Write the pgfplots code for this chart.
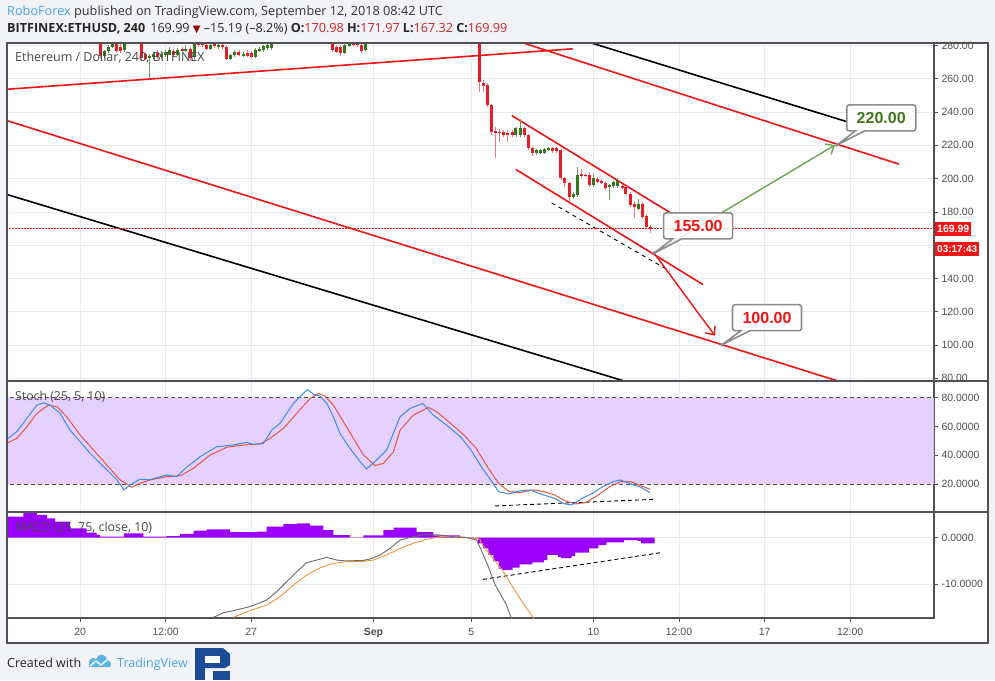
\documentclass[border=0pt]{standalone}
\usepackage{fontspec}
\setmainfont{Liberation Sans}
\newfontfamily\osans{Open Sans}
\newfontfamily\dejavu{DejaVu Sans}
\usepackage{xcolor}
\usepackage{pgfplots}
\usepackage{pgfplotstable}
\pgfplotsset{compat=1.18}
\usetikzlibrary{arrows.meta,shapes.callouts}

\definecolor{bgcol}{RGB}{242,243,247}
\definecolor{framecol}{RGB}{80,80,85}
\definecolor{gridcol}{RGB}{231,234,239}
\definecolor{tickcol}{RGB}{80,80,80}
\definecolor{candred}{RGB}{232,28,36}
\definecolor{wickred}{RGB}{236,120,130}
\definecolor{candgreen}{RGB}{56,118,29}
\definecolor{wickgreen}{RGB}{110,150,90}
\definecolor{linered}{RGB}{240,20,20}
\definecolor{stochblue}{RGB}{60,140,230}
\definecolor{stochred}{RGB}{230,85,60}
\definecolor{bandcol}{RGB}{228,203,255}
\definecolor{histcol}{RGB}{155,0,255}
\definecolor{macdgrey}{RGB}{105,105,105}
\definecolor{macdorange}{RGB}{240,150,60}
\definecolor{robo}{RGB}{75,163,227}
\definecolor{hdrred}{RGB}{200,35,35}
\definecolor{darkred}{RGB}{150,0,0}
\definecolor{callgrey}{RGB}{140,140,140}
\definecolor{tgreen}{RGB}{61,122,30}
\definecolor{arrowgreen}{RGB}{106,168,79}
\definecolor{logoblue}{RGB}{28,76,150}
\definecolor{tvlight}{RGB}{92,180,230}

\newcommand\tickfont{\fontsize{10.5}{12}\selectfont}

% candles: day (Aug 1 = 1, Sep 1 = 32), open, high, low, close
\pgfplotstableread{
d o h l c
20.83 286 287 272.5 273.5
21.50 281.5 283 275.5 276.5
21.67 279 281 275.5 276.5
22.17 287 289 283 285
22.33 285 286 281 283
22.50 283 284 271.5 272.5
22.67 275 276 271 272
23.17 275.5 277 272 273
23.83 276.5 278 273 274
24.17 277.5 279 276 277
24.50 278 279 271.5 272.3
24.83 282.5 284 279 280.5
25.00 281.5 283 279 280
25.17 280.5 282 277 278
25.50 281.5 283 278.5 279.5
25.83 280.5 282 278 279
26.00 279 280 271 272
26.50 276 277 273.5 274.5
26.83 275.5 277 273 273.5
27.00 275.5 276.5 272.5 273
30.33 284 286 276 277
30.50 279 280.5 275.5 276.3
30.67 279 280 273.5 275.5
31.17 281.5 283 279.5 280.5
31.33 281.5 283 279 280
31.50 280 281.5 275.5 276.5
36.33 286 288 252 258.2
36.50 257.4 259 252 255.8
36.67 256.4 257.5 243 244.3
36.83 244.3 245 226 228.2
37.00 228.5 231 212.2 227.5
37.17 228 230 222 227.8
37.33 228.2 229 225 226.2
37.50 227.3 229 222 226.8
37.67 227.8 229 225 226.2
38.17 230.2 231 225 226.2
38.33 226.2 227 217 218.2
38.50 218.2 219 213.6 215.2
39.33 218.2 219 215.5 216.8
39.50 218.2 219 215.5 216.6
39.67 217.2 218 199 200.1
39.83 200.1 201 195 197.1
40.00 197.1 198 186 189.0
40.50 202.5 206 200.5 201.5
40.67 202.1 203 201 201.9
40.83 202.1 204 195 196.1
41.17 199.5 201 197.5 198.1
41.33 198.7 199.5 196.5 197.1
41.50 197.1 198 193 194.1
42.17 195.5 196.5 193.5 194.1
42.33 194.7 195.5 190 191.0
42.50 191.0 192 183 184.0
42.67 185.0 186 176.6 183.0
43.00 185.0 186 176 177.0
43.17 177.4 178.5 170 171.0
43.33 170.98 171.97 167.32 169.99
}\redtab

\pgfplotstableread{
d o h l c
21.00 273.5 277 272.5 276.5
21.17 276.5 280 275.5 279
21.33 279 284 278.5 282
21.83 277 283 276 282
22.83 272.5 275 260.5 273.5
23.00 273 276 272 275
23.33 273 276.5 272 275
23.50 274 277 273 275.5
23.67 274.5 279 274 277.5
24.00 274.5 278.5 273.5 277.5
24.33 277 280 276 278
24.67 273 284 272 282.5
25.33 278 283 277.5 280
25.67 279 282 278 280.5
26.17 272 275 271 274
26.33 274 277 273 276
26.67 274 276 273 275
27.17 273.3 278.5 272.5 277.5
27.33 277 279 276 278
27.50 277 280 276 279.5
27.67 278.5 281 277.5 280.5
27.83 278.5 286 277.5 285
30.83 275.5 281 275 280
31.00 280 282.5 279 281
31.67 277.5 286 276.5 285
37.83 226.2 231 225 230.2
38.00 226.5 236 225 230.2
38.67 215.2 218 214 217.2
38.83 215.6 218 214.5 217.2
39.00 215.6 218.5 214.5 217.6
39.17 217.6 219 216.5 218.2
40.17 189.0 192 188 191.0
40.33 190.0 207.1 189 202.1
41.00 196.1 203 195 200.1
41.67 194.7 196.5 187 196.1
41.83 195.5 198.8 194.5 198.1
42.00 195.5 200.5 194.5 199.1
42.83 182.0 188 181 185.0
}\greentab

\pgfplotsset{
  panel/.style={
    scale only axis, width=927pt, anchor=south west,
    xmin=17.01, xmax=54.93,
    xtick={20,23.5,27,32,36,41,44.5,48,51.5},
    grid=major, grid style={draw=gridcol, line width=0.8pt},
    axis line style={draw=framecol, line width=1.1pt},
    ytick pos=right, yticklabel pos=right,
    tick align=outside, major tick length=4pt,
    tick style={draw=framecol, line width=0.8pt},
    yticklabel style={font=\tickfont, text=tickcol},
    xticklabel style={font=\tickfont, text=tickcol},
    clip mode=global,
  },
}

\begin{document}
\begin{tikzpicture}
\fill[bgcol] (0pt,0pt) rectangle (995pt,680pt);
\fill[white] (7pt,37pt) rectangle (988pt,637pt);

% ---------------- price ----------------
\begin{axis}[panel, at={(7pt,299pt)}, height=338pt,
  ymin=78.4, ymax=281.5,
  ytick={80,100,120,140,160,180,200,220,240,260,280},
  yticklabels={80.00,100.00,120.00,140.00,,180.00,200.00,220.00,240.00,260.00,280.00},
  xticklabels={}, xtick style={draw=none}]
  % trend lines
  \addplot[linered, line width=1.6pt] coordinates {(17.01,253.7) (40.16,278.0)};
  \addplot[linered, line width=1.6pt] coordinates {(38.0,282.1) (53.50,208.7)};
  \addplot[black, line width=1.6pt] coordinates {(40.65,282.7) (51.36,234.25)};
  \addplot[linered, line width=1.6pt] coordinates {(17.0,234.9) (51.0,78.4)};
  \addplot[black, line width=1.6pt] coordinates {(17.0,190.5) (42.37,77.9)};
  \addplot[linered, line width=1.6pt] coordinates {(37.66,237.87) (44.20,179.0)};
  \addplot[linered, line width=1.6pt] coordinates {(37.82,205.54) (45.48,136.35)};
  \addplot[black, line width=0.9pt, dash pattern=on 4pt off 4pt] coordinates {(39.29,185.4) (44.13,144.4)};
  % candles: wicks, then bodies
  \addplot[draw=none, mark=none, error bars/.cd, y dir=both, y explicit, error mark=none,
    error bar style={line width=0.9pt, color=wickred, solid}]
    table[x=d, y expr={(\thisrow{h}+\thisrow{l})/2}, y error expr={(\thisrow{h}-\thisrow{l})/2}] {\redtab};
  \addplot[draw=none, mark=none, error bars/.cd, y dir=both, y explicit, error mark=none,
    error bar style={line width=0.9pt, color=wickgreen, solid}]
    table[x=d, y expr={(\thisrow{h}+\thisrow{l})/2}, y error expr={(\thisrow{h}-\thisrow{l})/2}] {\greentab};
  \addplot[draw=none, mark=none, error bars/.cd, y dir=both, y explicit, error mark=none,
    error bar style={line width=3pt, color=candred, solid}]
    table[x=d, y expr={(\thisrow{o}+\thisrow{c})/2}, y error expr={max(abs(\thisrow{o}-\thisrow{c})/2,0.4)}] {\redtab};
  \addplot[draw=none, mark=none, error bars/.cd, y dir=both, y explicit, error mark=none,
    error bar style={line width=3pt, color=candgreen, solid}]
    table[x=d, y expr={(\thisrow{o}+\thisrow{c})/2}, y error expr={max(abs(\thisrow{o}-\thisrow{c})/2,0.4)}] {\greentab};
  % last price
  \addplot[linered, line width=0.8pt, dash pattern=on 1.5pt off 1.5pt] coordinates {(16,169.99) (56,169.99)};
  % targets
  \addplot[linered, line width=1.4pt, -{Straight Barb[length=7pt,width=12pt]}] coordinates {(43.48,155.2) (45.97,105.6)};
  \addplot[arrowgreen, line width=1.4pt, -{Straight Barb[length=7pt,width=12pt]}] coordinates {(43.48,155.2) (50.88,220.2)};
  \node[rectangle callout, callout absolute pointer={(axis cs:43.48,155.2)}, callout pointer width=9pt,
    draw=callgrey, line width=1.6pt, rounded corners=2.5pt, fill=white, fill opacity=0.85, text opacity=1,
    text=linered, font=\fontsize{16}{18}\selectfont\bfseries, minimum width=69pt, minimum height=26pt, inner sep=0pt]
    at (axis cs:45.28,171.6) {155.00};
  \node[rectangle callout, callout absolute pointer={(axis cs:50.96,220.2)}, callout pointer width=9pt,
    draw=callgrey, line width=1.6pt, rounded corners=2.5pt, fill=white, fill opacity=0.85, text opacity=1,
    text=tgreen, font=\fontsize{16}{18}\selectfont\bfseries, minimum width=69pt, minimum height=26pt, inner sep=0pt]
    at (axis cs:52.77,236.5) {220.00};
  \node[rectangle callout, callout absolute pointer={(axis cs:46.26,100.2)}, callout pointer width=9pt,
    draw=callgrey, line width=1.6pt, rounded corners=2.5pt, fill=white, fill opacity=0.85, text opacity=1,
    text=linered, font=\fontsize{16}{18}\selectfont\bfseries, minimum width=69pt, minimum height=26pt, inner sep=0pt]
    at (axis cs:48.10,116.45) {100.00};
  \addplot[only marks, mark=*, mark size=1.6pt, callgrey] coordinates {(43.48,155.2) (50.96,220.2) (46.26,100.2)};
  \coordinate (lastp) at (axis cs:54.93,169.99);
  \node[anchor=north west, inner sep=0pt, text=tickcol!90!black, font=\osans\fontsize{12.5}{14}\selectfont] at ([xshift=8pt,yshift=-9pt]rel axis cs:0,1) {Ethereum / Dollar, 240, BITFINEX};
\end{axis}

% ---------------- stochastic ----------------
\begin{axis}[panel, at={(7pt,168pt)}, height=131pt,
  ymin=0.8, ymax=91.5,
  ytick={20,40,60,80}, yticklabels={20.0000,40.0000,60.0000,80.0000},
  xticklabels={}, xtick style={draw=none}]
  \addplot[draw=none, fill=bandcol, fill opacity=0.9] coordinates {(16,20) (56,20) (56,80) (16,80)} -- cycle;
  \addplot[framecol, line width=0.8pt, dash pattern=on 4pt off 3pt] coordinates {(16,80) (56,80)};
  \addplot[framecol, line width=0.8pt, dash pattern=on 4pt off 3pt] coordinates {(16,20) (56,20)};
  \addplot[black, line width=0.9pt, dash pattern=on 4pt off 3pt] coordinates {(36.98,5.0) (43.52,9.6)};
  \addplot[stochred, line width=1.0pt] coordinates {
    (17.00,48.3) (17.41,51.8) (17.82,59.8) (18.23,69.1) (18.70,74.8) (19.05,73.7) (19.45,66.8)
    (20.00,54.1) (20.55,43.7) (21.09,33.4) (21.64,23.0) (22.11,17.9) (22.45,20.7) (22.86,23.0)
    (23.54,25.3) (24.09,25.8) (24.64,31.1) (25.32,40.3) (26.00,45.6) (26.68,47.2) (27.36,47.9)
    (27.77,51.8) (28.32,58.7) (28.86,69.1) (29.41,79.4) (29.75,82.9) (30.02,81.0) (30.36,74.8)
    (30.77,63.3) (31.18,51.8) (31.59,40.3) (32.07,32.9) (32.41,34.5) (32.82,42.6) (33.09,57.5)
    (33.63,67.9) (34.25,73.2) (34.59,70.2) (35.13,62.6) (35.70,54.1) (36.20,44.9) (36.70,31.1)
    (37.12,20.7) (37.55,14.9) (37.98,14.3) (38.55,16.1) (38.97,14.9) (39.40,12.7) (39.82,8.7)
    (40.25,6.4) (40.68,7.3) (41.10,11.5) (41.67,18.4) (42.10,21.8) (42.53,21.8) (42.95,18.9) (43.31,16.6)};
  \addplot[stochblue, line width=1.0pt] coordinates {
    (17.00,51.1) (17.41,56.4) (17.82,65.6) (18.23,74.8) (18.50,76.4) (18.77,74.8) (19.18,69.1)
    (19.59,57.5) (20.00,49.5) (20.41,41.4) (20.82,34.5) (21.23,27.7) (21.50,23.1) (21.80,16.1)
    (22.04,19.5) (22.45,23.5) (22.86,23.1) (23.54,26.5) (23.95,25.3) (24.36,31.8) (24.91,39.1)
    (25.59,46.0) (26.27,47.2) (26.82,49.0) (27.09,47.6) (27.50,48.3) (27.84,57.5) (28.18,62.2)
    (28.45,69.1) (28.73,76.0) (29.00,80.6) (29.30,85.6) (29.54,82.4) (29.82,81.0) (30.09,76.0)
    (30.36,66.8) (30.63,55.2) (31.04,44.9) (31.45,35.7) (31.72,30.6) (32.13,36.8) (32.54,43.7)
    (33.09,66.8) (33.50,72.5) (34.01,76.0) (34.45,67.9) (34.99,61.0) (35.56,52.9) (35.99,43.7)
    (36.41,32.2) (36.84,21.9) (37.12,14.9) (37.55,13.3) (37.98,15.4) (38.40,16.1) (38.83,13.3)
    (39.40,10.3) (39.82,6.4) (40.11,5.7) (40.54,10.3) (40.96,13.8) (41.39,18.4) (41.81,21.8)
    (42.10,23.0) (42.53,20.2) (42.95,17.9) (43.31,14.3)};
  \node[anchor=north west, inner sep=0pt, text=tickcol!90!black, font=\osans\fontsize{12.3}{14}\selectfont] at ([xshift=8pt,yshift=-10pt]rel axis cs:0,1) {Stoch (25, 5, 10)};
\end{axis}

% ---------------- MACD ----------------
\begin{axis}[panel, at={(7pt,62pt)}, height=106pt,
  ymin=-17.2, ymax=5.5,
  ytick={-10,0}, yticklabels={-10.0000,0.0000},
  xtick pos=bottom,
  xticklabels={20,12:00,27,\textbf{Sep},5,10,12:00,17,12:00},
  xticklabel style={yshift=-3pt}]
  \addplot[const plot mark left, draw=none, fill=histcol] coordinates {
    (17.00,4.5) (17.68,5.36) (18.23,4.86) (18.64,4.14) (18.98,3.43) (19.59,2.0) (20.27,1.1)
    (20.68,0.6) (20.82,0.21) (21.80,0.93) (22.59,0.21) (23.54,0.36) (24.09,0.79) (24.64,1.5)
    (25.18,1.79) (26.13,1.21) (27.23,1.29) (27.63,2.36) (28.32,2.93) (28.86,3.07) (29.41,2.57)
    (29.95,1.64) (30.36,0.57) (31.04,0.07) (31.59,0.5) (32.41,1.64) (32.82,2.14) (33.77,1.21)
    (34.45,0.5) (35.54,0.07) (36.09,-0.14) (36.27,-1.2) (36.48,-2.3) (36.70,-3.7) (36.91,-5.1)
    (37.12,-6.6) (37.27,-6.9) (37.69,-6.4) (37.98,-5.7) (38.50,-5.3) (38.97,-4.8) (39.11,-3.7)
    (39.54,-4.1) (39.68,-4.4) (40.11,-3.9) (40.25,-3.2) (40.82,-2.3) (41.20,-1.6) (41.53,-1.0)
    (42.24,-0.5) (42.81,-0.7) (42.95,-1.2) (43.50,-1.2)} \closedcycle;
  \addplot[black, line width=0.9pt, dash pattern=on 4pt off 3pt] coordinates {(36.48,-8.93) (43.83,-3.14)};
  \addplot[macdorange, line width=0.9pt] coordinates {
    (26.27,-17.07) (26.82,-15.86) (27.63,-14.43) (28.18,-12.64) (28.73,-10.14) (29.27,-8.0)
    (29.82,-6.43) (30.36,-5.5) (30.91,-5.14) (31.45,-5.14) (32.0,-4.79) (32.54,-3.71) (33.09,-2.29)
    (33.63,-1.21) (34.18,-0.36) (34.72,0.21) (35.27,0.29) (35.81,0.07) (36.36,-0.36) (36.41,-1.2)
    (36.84,-4.07) (37.27,-6.93) (37.69,-10.5) (38.12,-14.07) (38.54,-17.07) (38.69,-18.4)};
  \addplot[macdgrey, line width=0.9pt] coordinates {
    (25.45,-17.07) (25.86,-16.07) (26.27,-15.64) (26.82,-14.93) (27.09,-14.5) (27.63,-13.36)
    (28.04,-11.57) (28.45,-9.43) (28.86,-7.29) (29.27,-5.36) (29.68,-4.79) (30.09,-4.21) (30.50,-4.79)
    (30.77,-4.93) (31.18,-4.93) (31.59,-4.86) (31.86,-4.57) (32.27,-3.71) (32.68,-2.29) (33.09,-0.5)
    (33.63,0.21) (34.18,0.71) (34.72,0.57) (35.27,0.21) (35.81,0.0) (36.22,-0.5) (36.41,-2.64)
    (36.70,-6.21) (36.98,-10.14) (37.41,-14.07) (37.62,-16.93) (37.76,-18.4)};
  \node[anchor=north west, inner sep=0pt, text=tickcol!90!black, font=\osans\fontsize{12.4}{14}\selectfont] at ([xshift=8pt,yshift=-10pt]rel axis cs:0,1) {MACD (25, 75, close, 10)};
\end{axis}

% frame
\draw[framecol, line width=1.1pt] (7pt,37pt) rectangle (988pt,637pt);
\draw[framecol, line width=1.1pt] (7pt,299pt) -- (988pt,299pt);
\draw[framecol, line width=1.1pt] (7pt,168pt) -- (988pt,168pt);

% last price tags
\node[fill=linered, text=white, font=\fontsize{10.5}{12}\selectfont\bfseries, anchor=west, inner xsep=2pt, inner ysep=0pt, minimum height=14pt] at ([xshift=1pt,yshift=-0.5pt]lastp) {169.99};
\node[fill=linered, text=white, font=\fontsize{10}{12}\selectfont\bfseries, anchor=west, inner xsep=2pt, inner ysep=0pt, minimum height=14pt] at ([xshift=1pt,yshift=-20pt]lastp) {03:17:43};

% header
\node[anchor=base west, inner sep=0pt, font=\osans\fontsize{12.7}{14}\selectfont, text=black!80] at (7pt,664pt)
  {\textcolor{robo}{RoboForex} published on TradingView.com, September 12, 2018 08:42 UTC};
\node[anchor=base west, inner sep=0pt, font=\osans\fontsize{12.6}{14}\selectfont, text=black!85] at (7pt,647pt)
  {\textbf{BITFINEX:ETHUSD, 240}\hspace{5pt}169.99 {\dejavu\color{darkred}\fontsize{10}{12}\selectfont ▼} –15.19 (–8.2\%)
   \textbf{O:}\textcolor{hdrred}{170.98} \textbf{H:}\textcolor{hdrred}{171.97} \textbf{L:}\textcolor{hdrred}{167.32} \textbf{C:}\textcolor{hdrred}{169.99}};

% footer
\node[anchor=base west, inner sep=0pt, font=\osans\fontsize{12.5}{14}\selectfont, text=black!85] at (7pt,13pt) {Created with};
\fill[tvlight] (89pt,13pt) -- (89pt,17pt) .. controls (89pt,22pt) and (94pt,23pt) .. (96pt,21pt)
  .. controls (98pt,27pt) and (106pt,27pt) .. (107pt,20pt) .. controls (111pt,20pt) and (112pt,14pt) .. (110pt,13pt) -- cycle;
\draw[white, line width=1.3pt] (90pt,14pt) -- (96pt,19pt) -- (101pt,15pt) -- (107pt,20pt);
\node[anchor=base west, inner sep=0pt, font=\osans\fontsize{12.5}{14}\selectfont, text=robo] at (117pt,13pt) {TradingView};
\fill[logoblue] (195pt,0pt) rectangle (205pt,32pt);
\fill[logoblue] (195pt,32pt) -- (223pt,32pt) -- (230pt,26pt) -- (230pt,15pt) -- (225pt,12pt) -- (205pt,12pt) -- (205pt,22pt) -- (195pt,22pt) -- cycle;
\fill[white] (205pt,17pt) rectangle (220pt,24pt);
\fill[logoblue] (213pt,0pt) -- (213pt,9pt) -- (230pt,9pt) -- (230pt,0pt) -- cycle;
\end{tikzpicture}
\end{document}
